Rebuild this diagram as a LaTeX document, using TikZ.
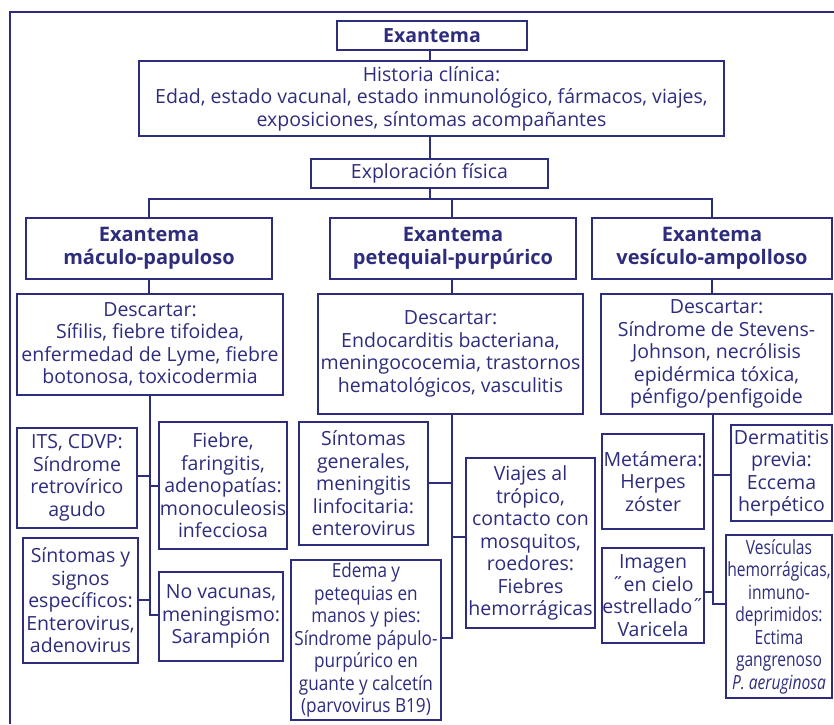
\documentclass[tikz,border=0pt]{standalone}
\usepackage{fontspec}
\setmainfont{Open Sans}
\newfontfamily\condfont[FakeStretch=0.8]{Open Sans}
\newfontfamily\semicondfont[FakeStretch=0.88]{Open Sans}
\definecolor{navy}{RGB}{46,45,125}
\begin{document}
\begin{tikzpicture}[x=1pt,y=-1pt,
  box/.style={draw=navy,line width=1.1pt,fill=white,inner sep=0pt,align=center,text=navy,
    font=\fontsize{19.5}{22.5}\selectfont},
  tbox/.style={box,font=\fontsize{20}{23}\selectfont\bfseries},
  cbox/.style={box,font=\fontsize{19.5}{22.5}\selectfont\condfont},
  sbox/.style={box,font=\fontsize{19.5}{22.5}\selectfont\semicondfont},
  conn/.style={draw=navy,line width=1.1pt},
  frame/.style={draw=navy,line width=2.8pt}]
\useasboundingbox (0,0) rectangle (834,724);
\draw[frame] (10,724) -- (10,12) -- (834,12);

\node[tbox,font=\fontsize{19.5}{23}\selectfont\bfseries,minimum width=190pt,minimum height=29pt] (ex) at (432,35.5) {Exantema};
\node[box,minimum width=585pt,minimum height=75pt] (hist) at (431.5,98.5)
  {Historia clínica:\\Edad, estado vacunal, estado inmunológico, fármacos, viajes,\\exposiciones, síntomas acompañantes};
\node[box,minimum width=237pt,minimum height=29pt] (expl) at (429.5,173.5) {Exploración física};

\node[tbox,minimum width=246pt,minimum height=61pt] (mac) at (149,248.5) {Exantema\\máculo-papuloso};
\node[tbox,minimum width=246pt,minimum height=61pt] (pet) at (453,248.5) {Exantema\\petequial-purpúrico};
\node[tbox,minimum width=240pt,minimum height=61pt] (ves) at (712,248.5) {Exantema\\vesículo-ampolloso};

\node[box,minimum width=266pt,minimum height=101pt] (d1) at (150,344.5)
  {Descartar:\\Sífilis, fiebre tifoidea,\\enfermedad de Lyme, fiebre\\botonosa, toxicodermia};
\node[box,minimum width=265pt,minimum height=120pt] (d2) at (450.5,354)
  {Descartar:\\Endocarditis bacteriana,\\meningococemia, trastornos\\hematológicos, vasculitis};
\node[box,minimum width=231pt,minimum height=120pt] (d3) at (716.5,354)
  {Descartar:\\Síndrome de Stevens-\\Johnson, necrólisis\\epidérmica tóxica,\\pénfigo/penfigoide};

\node[box,minimum width=120pt,minimum height=100pt] (its) at (77,478)
  {ITS, CDVP:\\Síndrome\\retrovírico\\agudo};
\node[box,minimum width=128pt,minimum height=127pt] (fieb) at (223,485.5)
  {Fiebre,\\faringitis,\\adenopatías:\\monoculeosis\\infecciosa};
\node[box,minimum width=115pt,minimum height=125pt] (sys) at (80.5,600.5)
  {Síntomas y\\signos\\específicos:\\Enterovirus,\\adenovirus};
\node[box,minimum width=124pt,minimum height=89pt] (novac) at (221,616.5)
  {No vacunas,\\meningismo:\\Sarampión};

\node[box,minimum width=129pt,minimum height=123pt] (sg) at (363.5,483.5)
  {Síntomas\\generales,\\meningitis\\linfocitaria:\\enterovirus};
\node[sbox,minimum width=150pt,minimum height=160pt] (edema) at (366,640)
  {Edema y\\petequias en\\manos y pies:\\Síndrome pápulo-\\purpúrico en\\guante y calcetín\\(parvovirus B19)};
\node[box,minimum width=129pt,minimum height=170pt] (viajes) at (530.5,543)
  {Viajes al\\trópico,\\contacto con\\mosquitos,\\roedores:\\Fiebres\\hemorrágicas};

\node[box,minimum width=102pt,minimum height=95pt] (met) at (653,481.5)
  {Metámera:\\Herpes\\zóster};
\node[box,minimum width=101pt,minimum height=96pt] (derm) at (781.5,473)
  {Dermatitis\\previa:\\Eccema\\herpético};
\node[box,minimum width=102pt,minimum height=95pt] (img) at (653,595.5)
  {Imagen\\˝en cielo\\estrellado˝\\Varicela};
\node[cbox,minimum width=106pt,minimum height=163pt] (vesic) at (779,616.5)
  {Vesículas\\hemorrágicas,\\inmuno-\\deprimidos:\\Ectima\\gangrenoso\\\textit{P. aeruginosa}};

% trunk coordinates
\coordinate (t0) at (430,0);
\coordinate (br) at (430,199);
\coordinate (t1) at (150,0);
\coordinate (t2) at (452,0);
\coordinate (t3) at (713,0);

% top connectors
\draw[conn] (ex.south -| t0) -- (hist.north -| t0);
\draw[conn] (hist.south -| t0) -- (expl.north -| t0);
\draw[conn] (expl.south -| t0) -- (br);
\draw[conn] (mac.north) |- (br) -| (ves.north);
\draw[conn] (pet.north -| t2) -- (br -| t2);
\draw[conn] (mac.south) -- (mac.south |- d1.north);
\draw[conn] (pet.south -| t2) -- (d2.north -| t2);
\draw[conn] (ves.south) -- (ves.south |- d3.north);

% left column
\draw[conn] (d1.south -| t1) -- (t1 |- 0,615) -- (novac.west |- 0,615);
\draw[conn] (its.east |- 0,476) -- (t1 |- 0,476);
\draw[conn] (t1 |- 0,486) -- (fieb.west |- 0,486);
\draw[conn] (sys.east |- 0,600) -- (t1 |- 0,600);

% middle column
\draw[conn] (d2.south -| t2) -- (t2 |- 0,638) -- (edema.east |- 0,638);
\draw[conn] (sg.east |- 0,483) -- (t2 |- 0,483);
\draw[conn] (t2 |- 0,537) -- (viajes.west |- 0,537);

% right column
\draw[conn] (d3.south -| t3) -- (t3 |- 0,604) -- (vesic.west |- 0,604);
\draw[conn] (t3 |- 0,475) -- (derm.west |- 0,475);
\draw[conn] (img.east |- 0,592) -- (t3 |- 0,592);
\end{tikzpicture}
\end{document}
